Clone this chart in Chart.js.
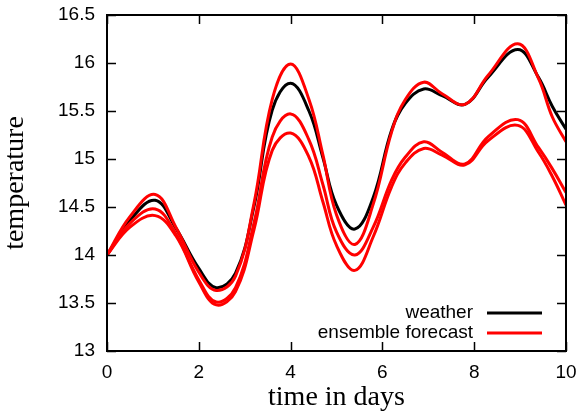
<!DOCTYPE html>
<html>
<head>
<meta charset="utf-8">
<script src="https://cdn.jsdelivr.net/npm/chart.js@4.4.0/dist/chart.umd.min.js"></script>
<style>
html,body{margin:0;padding:0;background:#fff;}
#wrap{width:580px;height:413px;}
</style>
</head>
<body>
<div id="wrap"><canvas id="c" width="580" height="413"></canvas></div>
<script>
// ---- data ----
const days     = [0, 0.5, 1.05, 1.5, 2, 2.38, 2.8, 3.2, 3.6, 4, 4.4, 4.7, 5.0, 5.4, 5.8, 6.2, 6.5, 6.9, 7.3, 7.8, 8.3, 8.95, 9.4, 9.7, 10];
const weather  = [14, 14.36, 14.57, 14.28, 13.86, 13.66, 13.81, 14.50, 15.51, 15.79, 15.50, 15.02, 14.52, 14.27, 14.60, 15.30, 15.58, 15.73, 15.66, 15.57, 15.85, 16.14, 15.85, 15.55, 15.31];
const member1  = [14, 14.40, 14.63, 14.29, 13.82, 13.63, 13.78, 14.53, 15.62, 15.99, 15.62, 15.05, 14.42, 14.11, 14.53, 15.28, 15.62, 15.80, 15.68, 15.57, 15.87, 16.20, 15.84, 15.44, 15.18];
const member2  = [14, 14.33, 14.48, 14.22, 13.74, 13.51, 13.66, 14.33, 15.23, 15.47, 15.20, 14.74, 14.24, 14.00, 14.29, 14.78, 15.02, 15.18, 15.07, 14.95, 15.23, 15.41, 15.12, 14.90, 14.65];
const member3  = [14, 14.29, 14.41, 14.20, 13.72, 13.48, 13.62, 14.26, 15.09, 15.27, 15.02, 14.56, 14.10, 13.84, 14.19, 14.71, 14.96, 15.11, 15.04, 14.94, 15.19, 15.35, 15.07, 14.82, 14.52];
const xTicks   = [0, 2, 4, 6, 8, 10];
const yTicks   = [13, 13.5, 14, 14.5, 15, 15.5, 16, 16.5];
const seriesNames = ['weather', 'ensemble forecast'];
const seriesColors = ['#000000', '#ff0000'];

const pts = arr => arr.map((v, i) => ({x: days[i], y: v}));

const sansFont = {family: '"Liberation Sans", Arial, sans-serif', size: 19};
const serifFont = {family: '"Liberation Serif", "Times New Roman", serif', size: 28, lineHeight: 1};

const frameTicks = {
  id: 'frameTicks',
  afterDraw(chart) {
    const {ctx, chartArea: a, scales} = chart;
    ctx.save();
    ctx.strokeStyle = '#000';
    ctx.lineWidth = 1.5;
    const tl = 9;
    ctx.beginPath();
    xTicks.forEach(v => {
      const px = Math.round(scales.x.getPixelForValue(v)) + 0.5;
      ctx.moveTo(px, a.bottom); ctx.lineTo(px, a.bottom - tl);
      ctx.moveTo(px, a.top); ctx.lineTo(px, a.top + tl);
    });
    yTicks.forEach(v => {
      const py = Math.round(scales.y.getPixelForValue(v)) + 0.5;
      ctx.moveTo(a.left, py); ctx.lineTo(a.left + tl, py);
      ctx.moveTo(a.right, py); ctx.lineTo(a.right - tl, py);
    });
    ctx.stroke();
    ctx.lineWidth = 2;
    ctx.strokeRect(a.left, a.top, a.right - a.left, a.bottom - a.top);
    // legend (inside, bottom right)
    ctx.font = '19px "Liberation Sans", Arial, sans-serif';
    ctx.textAlign = 'right';
    ctx.textBaseline = 'middle';
    ctx.fillStyle = '#000';
    const textRight = a.right - 93;
    const lineL = a.right - 79, lineR = a.right - 24;
    [a.bottom - 38, a.bottom - 18].forEach((y, i) => {
      ctx.fillText(seriesNames[i], textRight, y);
      ctx.strokeStyle = seriesColors[i];
      ctx.lineWidth = 3;
      ctx.beginPath();
      ctx.moveTo(lineL, y); ctx.lineTo(lineR, y);
      ctx.stroke();
    });
    ctx.restore();
  }
};

const lineDs = (label, arr, color, order) => ({
  label, data: pts(arr), borderColor: color, backgroundColor: color,
  borderWidth: 3, pointRadius: 0, fill: false,
  tension: 0.4, order
});

new Chart(document.getElementById('c'), {
  type: 'line',
  data: {
    datasets: [
      lineDs(seriesNames[1], member1, seriesColors[1], 1),
      lineDs(seriesNames[1], member2, seriesColors[1], 1),
      lineDs(seriesNames[1], member3, seriesColors[1], 1),
      lineDs(seriesNames[0], weather, seriesColors[0], 2)
    ]
  },
  options: {
    responsive: false,
    animation: false,
    devicePixelRatio: 1,
    layout: {padding: {top: 15, right: 14, left: 0, bottom: 0}},
    plugins: {legend: {display: false}, tooltip: {enabled: false}},
    scales: {
      x: {
        type: 'linear', min: 0, max: 10,
        afterBuildTicks: s => { s.ticks = xTicks.map(v => ({value: v})); },
        afterFit: s => { s.height = 62; s.paddingLeft = 0; s.paddingRight = 0; },
        grid: {display: false, drawTicks: false},
        border: {display: false},
        ticks: {font: sansFont, color: '#000', padding: 10, maxRotation: 0, callback: v => String(v)},
        title: {display: true, text: 'time in days', font: serifFont, color: '#000', padding: {top: 0, bottom: 1.5}}
      },
      y: {
        type: 'linear', min: 13, max: 16.5,
        afterBuildTicks: s => { s.ticks = yTicks.map(v => ({value: v})); },
        afterFit: s => { s.width = 107; s.paddingTop = 0; s.paddingBottom = 0; },
        grid: {display: false, drawTicks: false},
        border: {display: false},
        ticks: {font: sansFont, color: '#000', padding: 12, callback: v => String(v)},
        title: {display: true, text: 'temperature', font: serifFont, color: '#000', padding: {top: 1.5, bottom: 0}}
      }
    }
  },
  plugins: [frameTicks]
});
</script>
</body>
</html>
